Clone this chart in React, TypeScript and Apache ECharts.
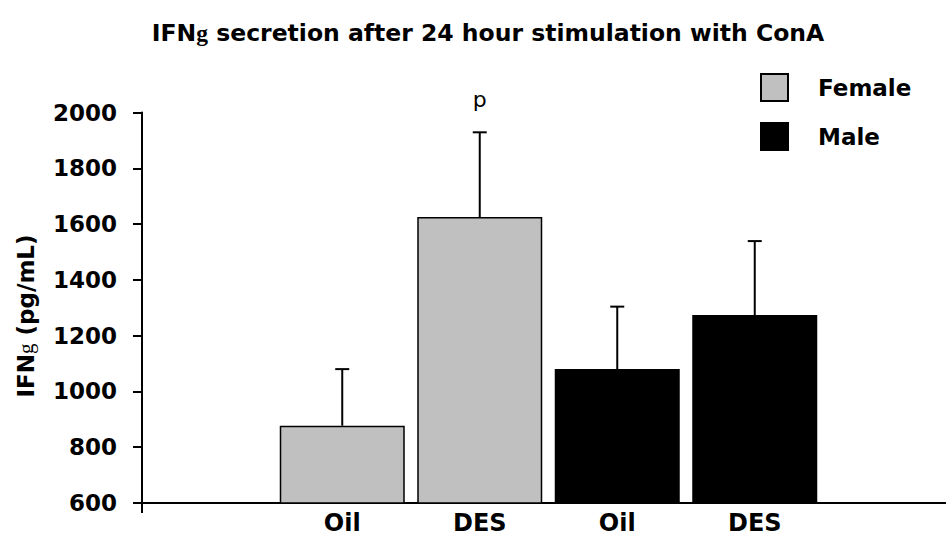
import React, { useEffect, useRef } from "react";
import * as echarts from "echarts";

// groups along the x axis, in slot units from the y axis
const categories = ["Oil", "DES", "Oil", "DES"];
const slotOffset = 1.5; // first group sits in the second slot
const femaleValues = [877, 1625, null, null];
const maleValues = [null, null, 1080, 1274];
const errorSizes = [203, 304, 224, 265];
const annotations = ["", "p", "", ""];
const yMin = 600;
const yMax = 2000;
const yInterval = 200;

const FONT = "DejaVu Sans, Liberation Sans, Arial, sans-serif";
const SERIF = "Liberation Serif, DejaVu Serif, Times New Roman, serif";

export default function App() {
  const ref = useRef<HTMLDivElement>(null);
  useEffect(() => {
    document.body.style.margin = "0";
    if (!ref.current) return;
    const chart = echarts.init(ref.current, null, { renderer: "svg" });
    const pos = (i: number) => i + slotOffset;
    const femaleData = femaleValues
      .map((v, i) => (v == null ? null : [pos(i), v]))
      .filter((d) => d !== null);
    const maleData = maleValues
      .map((v, i) => (v == null ? null : [pos(i), v]))
      .filter((d) => d !== null);
    const means = categories.map((_, i) => (femaleValues[i] ?? maleValues[i]) as number);
    const errData = categories.map((_, i) => [pos(i), means[i], means[i] + errorSizes[i], i]);
    const labelAt = (v: number) => {
      const idx = Math.round(v - slotOffset);
      return Math.abs(v - slotOffset - idx) < 1e-6 && idx >= 0 && idx < categories.length
        ? categories[idx]
        : "";
    };
    chart.setOption({
      animation: false,
      backgroundColor: "#fff",
      graphic: [
        {
          type: "text",
          x: 488,
          y: 33,
          style: {
            text: "{b|IFN}{g|g}{b| secretion after 24 hour stimulation with ConA}",
            align: "center",
            verticalAlign: "middle",
            rich: {
              b: { fontFamily: FONT, fontWeight: "bold", fontSize: 23.5, fill: "#000" },
              g: { fontFamily: SERIF, fontWeight: "bold", fontSize: 23.5, fill: "#000" },
            },
          },
        },
        {
          type: "text",
          x: 26,
          y: 316,
          rotation: Math.PI / 2,
          style: {
            text: "{b|IFN}{g|g}{b| (pg/mL)}",
            align: "center",
            verticalAlign: "middle",
            rich: {
              b: { fontFamily: FONT, fontWeight: "bold", fontSize: 23, fill: "#000" },
              g: { fontFamily: SERIF, fontWeight: "normal", fontSize: 21, fill: "#000" },
            },
          },
        },
        {
          type: "line",
          shape: { x1: 142, y1: 502, x2: 142, y2: 513 },
          style: { stroke: "#000", lineWidth: 2 },
        },
      ],
      legend: {
        orient: "vertical",
        left: 760,
        top: 73,
        padding: 0,
        itemWidth: 27,
        itemHeight: 27,
        itemGap: 20,
        icon: "rect",
        data: ["Female", "Male"],
        itemStyle: { borderColor: "#000", borderWidth: 2 },
        textStyle: {
          fontFamily: FONT,
          fontWeight: "bold",
          fontSize: 23,
          color: "#000",
          padding: [0, 0, 0, 25],
        },
      },
      grid: { left: 136, right: 0, top: 112.5, bottom: 34, containLabel: false },
      xAxis: {
        type: "value",
        min: 0,
        max: 810 / 137.5,
        interval: 0.5,
        splitLine: { show: false },
        axisLine: { onZero: false, lineStyle: { color: "#000", width: 2 } },
        axisTick: { show: false },
        axisLabel: {
          fontFamily: FONT,
          fontWeight: "bold",
          fontSize: 24,
          color: "#000",
          margin: 8,
          showMinLabel: true,
          showMaxLabel: false,
          formatter: (v: number) => labelAt(v),
        },
      },
      yAxis: {
        type: "value",
        min: yMin,
        max: yMax,
        interval: yInterval,
        offset: -6,
        splitLine: { show: false },
        axisLine: { show: true, onZero: false, lineStyle: { color: "#000", width: 2 } },
        axisTick: { show: true, length: 9, lineStyle: { color: "#000", width: 2 } },
        axisLabel: {
          fontFamily: FONT,
          fontWeight: "bold",
          fontSize: 23,
          color: "#000",
          margin: 25,
          formatter: (v: number) => String(v),
        },
      },
      series: [
        {
          name: "Female",
          type: "bar",
          data: femaleData,
          barWidth: 125,
          barGap: "-100%",
          itemStyle: { color: "#c0c0c0", borderColor: "#000", borderWidth: 1.5 },
        },
        {
          name: "Male",
          type: "bar",
          data: maleData,
          barWidth: 125,
          barGap: "-100%",
          itemStyle: { color: "#000", borderColor: "#000", borderWidth: 1.5 },
        },
        {
          type: "custom",
          data: errData,
          z: 5,
          renderItem: (params: any, api: any) => {
            const base = api.coord([api.value(0), api.value(1)]);
            const top = api.coord([api.value(0), api.value(2)]);
            const idx = api.value(3);
            const children: any[] = [
              {
                type: "line",
                shape: { x1: base[0], y1: base[1], x2: top[0], y2: top[1] },
                style: { stroke: "#000", lineWidth: 2 },
              },
              {
                type: "line",
                shape: { x1: top[0] - 7, y1: top[1], x2: top[0] + 7, y2: top[1] },
                style: { stroke: "#000", lineWidth: 2 },
              },
            ];
            const ann = annotations[idx];
            if (ann) {
              children.push({
                type: "text",
                x: top[0],
                y: top[1] - 33,
                style: {
                  text: ann,
                  fontFamily: FONT,
                  fontSize: 22,
                  fill: "#000",
                  align: "center",
                  verticalAlign: "middle",
                },
              });
            }
            return { type: "group", children };
          },
        },
      ],
    });
    return () => chart.dispose();
  }, []);
  return <div ref={ref} style={{ width: 946, height: 537 }} />;
}
